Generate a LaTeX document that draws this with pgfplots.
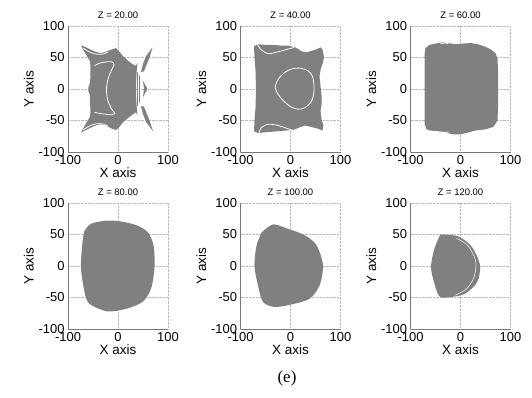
\documentclass[border=0pt]{standalone}
\usepackage{fontspec}
\setmainfont{Liberation Sans}
\newfontfamily\seriffont{Liberation Serif}
\usepackage{pgfplots}
\pgfplotsset{compat=1.18}
\definecolor{shape}{RGB}{128,128,128}
\definecolor{axgray}{RGB}{120,120,120}
\pgfplotsset{panel/.style={
  scale only axis, width=100bp, height=126bp,
  xmin=-100,xmax=100,ymin=-100,ymax=100,
  xtick={-100,0,100}, ytick={-100,-50,0,50,100},
  grid=major, grid style={densely dotted, gray!55, line width=0.5pt},
  axis x line*=bottom, axis y line*=left,
  axis line style={-, axgray, line width=0.8pt},
  major tick length=0pt,
  tick label style={font=\fontsize{13}{13}\selectfont},
  /pgf/number format/assume math mode=true,
  xlabel={X axis}, ylabel={Y axis},
  label style={font=\fontsize{13.5}{14}\selectfont},
  xlabel style={yshift=4bp},
  ylabel style={yshift=-2bp},
  title style={font=\fontsize{9.5}{10}\selectfont, yshift=-2.5bp},
  anchor=south west,
  clip=false,
},
blob/.style={fill=shape, draw=none, mark=none},
gap/.style={white, line width=0.8pt, mark=none, smooth}}
\begin{document}
\begin{tikzpicture}
\path[use as bounding box] (0,0) rectangle (532bp,398bp);
% ---------- Z = 20
\begin{axis}[panel, at={(68bp,246bp)}, title={Z = 20.00}]
\addplot[blob] coordinates {(-74,69) (-66,67) (-56,63) (-45,59) (-35,57) (-25,59) (-12,63) (-4,65) (2,60) (10,52) (20,45) (30,39) (36,37) (39,42) (38,33) (37,25) (36,12) (36,0) (36,-12) (37,-25) (38,-33) (39,-42) (36,-37) (30,-40) (20,-46) (10,-53) (2,-61) (-4,-65) (-12,-63) (-25,-58) (-35,-56) (-45,-58) (-56,-62) (-66,-66) (-74,-69) (-68,-60) (-62,-52) (-56,-44) (-55,-35) (-56,-22) (-56,-10) (-59,-4) (-59,3) (-56,10) (-55,22) (-55,35) (-56,44) (-62,52) (-68,60) (-74,69)};
\addplot[blob] coordinates {(38,28) (44,20) (44,-20) (38,-28) (38,28)};
\addplot[blob] coordinates {(46,27) (50,40) (56,52) (69,66) (63,50) (57,38) (52,28) (46,27)};
\addplot[blob] coordinates {(50,13) (59,0) (50,-13) (52,0) (50,13)};
\addplot[blob] coordinates {(46,-27) (50,-40) (56,-52) (70,-67) (63,-50) (57,-38) (52,-28) (46,-27)};
\addplot[gap] coordinates {(-47,37) (-37,41) (-24,43) (-13,43) (-8,39) (-14,28) (-20,16) (-23,0) (-21,-16) (-14,-30) (-6,-39)};
\addplot[gap] coordinates {(-6,-39) (-14,-41) (-24,-40) (-35,-39) (-47,-37)};
\addplot[gap] coordinates {(-70,65) (-60,60) (-48,56) (-38,55) (-28,56) (-20,59)};
\addplot[gap] coordinates {(-70,-65) (-60,-60) (-48,-56) (-38,-55) (-28,-56) (-20,-59)};
\addplot[white, line width=0.7pt] coordinates {(40.5,26) (40.5,-26)};
\end{axis}
% ---------- Z = 40
\begin{axis}[panel, at={(240.5bp,246bp)}, title={Z = 40.00}]
\addplot[blob] coordinates {(-73,68) (-65,71) (-50,70) (-35,70) (-20,69) (-5,69) (10,66) (22,60) (30,58) (40,60) (52,63) (60,66) (64,63) (67,50) (64,40) (60,30) (58,20) (60,5) (62,-10) (62,-25) (60,-35) (62,-48) (66,-58) (64,-66) (55,-63) (40,-60) (28,-58) (15,-62) (5,-65) (-10,-66) (-25,-67) (-40,-68) (-55,-69) (-65,-70) (-73,-67) (-72,-50) (-70,-30) (-69,0) (-70,30) (-72,50) (-73,68)};
\addplot[gap] coordinates {(-31,3) (-25,15) (-12,26) (3,32) (20,33) (35,29) (44,20) (47,5) (46,-10) (40,-22) (28,-30) (15,-32) (0,-28) (-15,-18) (-26,-7) (-31,3)};
\addplot[gap] coordinates {(-66,70) (-58,62) (-45,56) (-30,58) (-16,61) (-2,64) (7,66)};
\addplot[gap] coordinates {(-64,-71) (-58,-61) (-45,-56) (-30,-57) (-16,-60) (-2,-64) (7,-66)};
\end{axis}
% ---------- Z = 60
\begin{axis}[panel, at={(410.5bp,246bp)}, title={Z = 60.00}]
\addplot[blob] coordinates {(-72,55) (-70,65) (-62,70) (-50,72) (-38,74) (-25,73) (-10,71) (5,72) (20,73) (35,71) (50,67) (62,62) (70,57) (74,48) (75,30) (75,0) (75,-30) (74,-50) (66,-60) (50,-64) (30,-66) (15,-69) (0,-72) (-15,-72) (-30,-69) (-45,-67) (-60,-66) (-68,-64) (-72,-55) (-72,-30) (-72,0) (-72,30) (-72,55)};
\addplot[gap] coordinates {(-40,72) (-32,73) (-24,72)};
\addplot[gap] coordinates {(-40,-68) (-32,-69) (-24,-68)};
\end{axis}
% ---------- Z = 80
\begin{axis}[panel, at={(68bp,69bp)}, title={Z = 80.00}]
\addplot[blob, smooth] coordinates {(-67,56) (-54,67) (-24,72) (3,71) (36,65) (59,54) (71,33) (73,-2) (66,-36) (49,-57) (16,-68) (-21,-72) (-57,-60) (-67,-41) (-74,-2) (-71,38) (-67,56)};
\end{axis}
% ---------- Z = 100
\begin{axis}[panel, at={(240.5bp,69bp)}, title={Z = 100.00}]
\addplot[blob, smooth] coordinates {(-58,53) (-35,66) (-5,59) (28,49) (52,33) (65,1) (58,-31) (38,-52) (2,-61) (-32,-65) (-55,-57) (-65,-31) (-72,0) (-68,32) (-58,53)};
\end{axis}
% ---------- Z = 120
\begin{axis}[panel, at={(410.5bp,69bp)}, title={Z = 120.00}]
\addplot[blob, smooth] coordinates {(-41,49) (-37,50) (-4,47) (23,30) (39,1) (33,-26) (9,-44) (-17,-49) (-41,-49) (-51,-31) (-59,-2) (-52,28) (-41,49)};
\addplot[gap, line width=0.5pt] coordinates {(-8,44) (14,33) (28,14) (31,0) (26,-20) (11,-37) (-10,-46)};
\end{axis}
\node[font=\seriffont\fontsize{17}{17}\selectfont] at (287bp,20bp) {(e)};
\end{tikzpicture}
\end{document}
